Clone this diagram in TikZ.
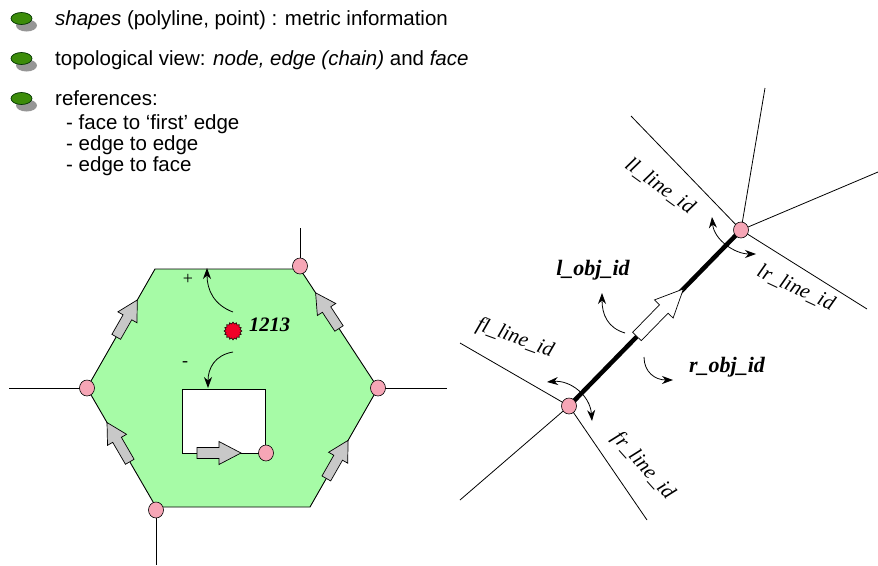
\documentclass[tikz,border=0pt]{standalone}
\usepackage{fontspec}
\setmainfont{Liberation Serif}
\setsansfont{Liberation Sans}
\usetikzlibrary{calc,arrows.meta,shapes.geometric}
\definecolor{hexgreen}{RGB}{166,251,166}
\definecolor{nodepink}{RGB}{246,166,182}
\definecolor{arrgray}{RGB}{200,200,200}
\definecolor{dotred}{RGB}{240,0,40}
\definecolor{bulgreen}{RGB}{60,140,10}
\definecolor{shadgray}{RGB}{150,150,150}
\newcommand\blockarr[6]{%
  \coordinate (ba-n) at ($(#2)!#5!(#1)$);
  \draw[fill=#6, line width=0.7, line join=miter]
    ($(#1)!#3!90:(#2)$) -- ($(ba-n)!#3!90:(#2)$) -- ($(ba-n)!#4!90:(#2)$) -- (#2)
    -- ($(ba-n)!#4!-90:(#2)$) -- ($(ba-n)!#3!-90:(#2)$) -- ($(#1)!#3!-90:(#2)$) -- cycle;}
\tikzset{
  pnode/.style={ellipse, draw, fill=nodepink, minimum width=15pt, minimum height=16pt, inner sep=0pt, line width=0.6},
  thin/.style={line width=0.8},
  txt/.style={anchor=base west, inner sep=0pt, font=\sffamily\fontsize{20.5}{24}\selectfont},
  lbl/.style={inner sep=0pt, font=\fontsize{21}{24}\selectfont\itshape},
  objlbl/.style={inner sep=0pt, font=\fontsize{22}{24}\selectfont\bfseries\itshape},
  carr/.style={line width=0.8, -{Stealth[length=11pt,width=8pt]}},
  darr/.style={line width=0.8, {Stealth[length=11pt,width=8pt]}-{Stealth[length=11pt,width=8pt]}},
  bullet/.pic={
    \fill[shadgray] (5,7) ellipse [x radius=10.5, y radius=6];
    \filldraw[fill=bulgreen, draw=black!80!green, line width=0.7] (0,0) ellipse [x radius=10.5, y radius=6];
  }
}
\begin{document}
\begin{tikzpicture}[x=1pt,y=-1pt]
\useasboundingbox (0,0) rectangle (878,565);
% ---- bullet text
\pic at (21.5,18.5) {bullet};
\pic at (21.5,58.5) {bullet};
\pic at (21.5,98.5) {bullet};
\node[txt] (t1) at (55,25.5) {\textit{shapes} (polyline, point) : metric information};
\node[txt] (t2) at (55,65.5) {topological view: \textit{node, edge (chain)} and \textit{face}};
\node[txt] (t3) at (55,105.5) {references:};
\node[txt] (t4) at (66,129.5) {- face to ‘first’ edge};
\node[txt] (t5) at (66,150.5) {- edge to edge};
\node[txt] (t6) at (66,171.5) {- edge to face};
% ---- hexagon
\coordinate (TL) at (155,269);
\coordinate (TR) at (300,269);
\coordinate (R) at (378,388);
\coordinate (BR) at (310,507);
\coordinate (BL) at (156,507);
\coordinate (L) at (87,388);
\draw[fill=hexgreen, line width=0.9] (TL) -- (TR) -- (R) -- (BR) -- (BL) -- (L) -- cycle;
\coordinate (oTop) at (300,228);
\coordinate (oLeft) at (9,388);
\coordinate (oRight) at (447,388);
\coordinate (oBot) at (156,565);
\draw[thin] (oTop) -- (TR);
\draw[thin] (oLeft) -- (L);
\draw[thin] (R) -- (oRight);
\draw[thin] (BL) -- (oBot);
% inner hole
\draw[fill=white, line width=0.9] (182,389) rectangle (265,453);
% block arrows on edges
\coordinate (a1t) at ($(L)!0.43!(TL)$);  \coordinate (a1h) at ($(L)!0.74!(TL)$);
\coordinate (a2t) at ($(BL)!0.38!(L)$);  \coordinate (a2h) at ($(BL)!0.71!(L)$);
\coordinate (a3t) at ($(R)!0.50!(TR)$);  \coordinate (a3h) at ($(R)!0.80!(TR)$);
\coordinate (a4t) at ($(BR)!0.24!(R)$);  \coordinate (a4h) at ($(BR)!0.56!(R)$);
\coordinate (a5t) at (197,453);          \coordinate (a5h) at (241,453);
\blockarr{a1t}{a1h}{5pt}{11pt}{20pt}{arrgray}
\blockarr{a2t}{a2h}{5pt}{11pt}{20pt}{arrgray}
\blockarr{a3t}{a3h}{5pt}{11pt}{20pt}{arrgray}
\blockarr{a4t}{a4h}{5pt}{11pt}{20pt}{arrgray}
\blockarr{a5t}{a5h}{5.5pt}{11.5pt}{22pt}{arrgray}
% nodes
\node[pnode] (nTR) at (300,266) {};
\node[pnode] (nL) at (87,388) {};
\node[pnode] (nR) at (378,388) {};
\node[pnode] (nBL) at (156,510) {};
\node[pnode] (nIn) at (266,453) {};
% point 1213
\node[star, star points=16, star point ratio=1.25, fill=dotred, draw, inner sep=0pt, minimum size=18pt, line width=0.5] (pt) at (233,331) {};
\node[inner sep=0pt, anchor=west, font=\fontsize{20.5}{24}\selectfont\bfseries\itshape] (ptl) at (249,325) {1213};
\coordinate (plS) at (233,312); \coordinate (plE) at (207,268);
\coordinate (miS) at (233,352); \coordinate (miE) at (208,388);
\draw[carr] (plS) .. controls (214,305) and (207,290) .. (plE);
\draw[carr] (miS) .. controls (215,355) and (208,368) .. (miE);
\node[font=\fontsize{18}{20}\selectfont] (plus) at (188,279) {+};
\node[font=\fontsize{18}{20}\selectfont] (minus) at (185,364) {-};
% ---- right diagram
\coordinate (T) at (741,230);
\coordinate (B) at (569,406);
\coordinate (llE) at (631,116);
\coordinate (lrE) at (867,309);
\coordinate (upE) at (765,88);
\coordinate (rtE) at (878,172);
\coordinate (flE) at (460,343);
\coordinate (frE) at (647,520);
\coordinate (dlE) at (460,500);
\draw[thin] (llE) -- (T);
\draw[thin] (T) -- (lrE);
\draw[thin] (T) -- (upE);
\draw[thin] (T) -- (rtE);
\draw[thin] (flE) -- (B);
\draw[thin] (B) -- (frE);
\draw[thin] (B) -- (dlE);
\draw[line width=4.5] (B) -- (T);
\coordinate (wt) at ($(B)!0.395!(T)$);
\coordinate (wh) at ($(B)!0.665!(T)$);
\blockarr{wt}{wh}{6pt}{13pt}{28pt}{white}
\node[pnode] (nT) at (T) {};
\node[pnode] (nB) at (B) {};
% double arcs
\coordinate (tA) at (712,217); \coordinate (tB) at (756,254);
\draw[darr] (tA) .. controls (714,240) and (735,254) .. (tB);
\coordinate (bA) at (547,382); \coordinate (bB) at (592,421);
\draw[darr] (bA) .. controls (570,380) and (590,395) .. (bB);
% obj arrows
\coordinate (loS) at (625,333); \coordinate (loE) at (602,293);
\draw[carr] (loS) .. controls (608,328) and (602,315) .. (loE);
\coordinate (roS) at (644,357); \coordinate (roE) at (673,380);
\draw[carr] (roS) .. controls (644,372) and (655,380) .. (roE);
% labels
\node[lbl, rotate=-36] (llL) at (660,186) {ll\_line\_id};
\node[lbl, rotate=-25] (lrL) at (796,288) {lr\_line\_id};
\node[lbl, rotate=-20] (flL) at (515,338) {fl\_line\_id};
\node[lbl, rotate=-48] (frL) at (643,466) {fr\_line\_id};
\node[objlbl] (lo) at (593,270) {l\_obj\_id};
\node[objlbl] (ro) at (727,367) {r\_obj\_id};
\end{tikzpicture}
\end{document}
